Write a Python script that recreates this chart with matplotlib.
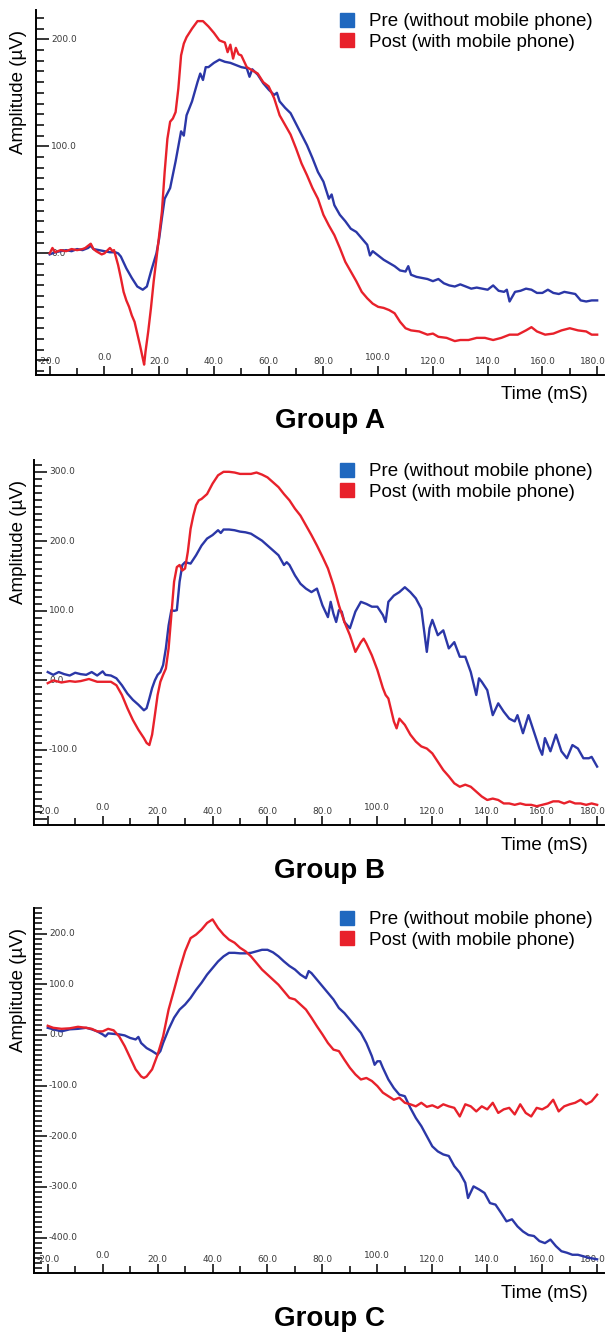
import matplotlib
matplotlib.use('Agg')
import matplotlib.pyplot as plt
from matplotlib.patches import Patch
from matplotlib.ticker import MultipleLocator
from matplotlib.transforms import offset_copy

plt.rcParams['font.family'] = ['Liberation Sans', 'DejaVu Sans']

series_names = ['Pre (without mobile phone)', 'Post (with mobile phone)']
group_names = ['Group A', 'Group B', 'Group C']
x_ticks = [-20, 0, 20, 40, 60, 80, 100, 120, 140, 160, 180]

# ---- Group A ----
t_a_pre = [-20, -18, -16, -14, -12, -10, -8, -6, -5, -4,
           -2, 0, 2, 4, 5, 6, 8, 10, 12, 14,
           15.5, 17, 19, 20, 21, 22, 23, 24, 26, 28,
           29, 30, 32, 34, 35, 36, 37, 38, 40, 42,
           44, 46, 48, 50, 52, 53, 54, 56, 58, 60,
           62, 63, 64, 66, 68, 70, 72, 74, 76, 78,
           80, 82, 83, 84, 86, 88, 90, 92, 94, 96,
           97, 98, 100, 102, 104, 106, 108, 110, 111, 112,
           114, 116, 118, 120, 122, 124, 126, 128, 130, 132,
           134, 136, 138, 140, 142, 144, 146, 147, 148, 150,
           152, 154, 156, 158, 160, 162, 164, 166, 168, 170,
           172, 174, 176, 178, 180]
v_a_pre = [-1, 1, 2, 3, 2, 4, 3, 5, 7, 4,
           3, 2, 1, 1, 0, -3, -14, -23, -31, -34,
           -31, -17, 0, 14, 33, 51, 56, 61, 86, 114,
           110, 129, 142, 160, 168, 162, 174, 174, 178, 181,
           179, 178, 176, 174, 173, 165, 172, 167, 159, 153,
           148, 150, 142, 136, 131, 121, 111, 101, 89, 76,
           67, 51, 55, 45, 36, 30, 23, 20, 14, 8,
           -2, 2, -2, -6, -9, -12, -16, -17, -12, -20,
           -22, -23, -24, -26, -24, -28, -30, -31, -29, -31,
           -33, -32, -33, -34, -30, -35, -36, -34, -45, -36,
           -35, -33, -34, -37, -37, -34, -37, -38, -36, -37,
           -38, -44, -45, -44, -44]
t_a_post = [-20, -19, -18, -16, -14, -12, -10, -8, -7, -5,
            -4, -3, -1, 0, 2, 3, 3.5, 5, 6, 7,
            8, 9, 10, 11, 12, 13, 14, 14.5, 15, 16,
            17, 18, 19, 20, 21, 22, 23, 24, 25, 26,
            27, 28, 29, 30, 32, 34, 36, 38, 40, 42,
            44, 45, 46, 47, 48, 49, 50, 52, 54, 56,
            58, 60, 62, 64, 66, 68, 70, 72, 74, 76,
            78, 80, 82, 84, 86, 88, 90, 92, 94, 96,
            98, 100, 102, 104, 106, 108, 110, 112, 115, 118,
            120, 122, 125, 128, 130, 133, 136, 139, 142, 145,
            148, 151, 154, 156, 158, 161, 164, 167, 170, 173,
            176, 178, 180]
v_a_post = [0, 5, 1, 3, 2, 4, 3, 4, 5, 9,
            4, 2, -1, 0, 5, 2, 3, -11, -23, -36,
            -44, -50, -58, -64, -75, -86, -98, -104, -92, -73,
            -51, -26, -5, 17, 39, 76, 107, 123, 126, 132,
            154, 185, 196, 202, 210, 217, 217, 212, 206, 199,
            197, 188, 195, 182, 192, 186, 185, 174, 171, 168,
            160, 156, 145, 129, 120, 111, 98, 84, 73, 61,
            51, 36, 26, 17, 5, -8, -17, -26, -36, -42,
            -47, -50, -51, -53, -56, -64, -70, -72, -73, -76,
            -75, -78, -79, -82, -81, -81, -79, -79, -81, -79,
            -76, -76, -72, -69, -73, -76, -75, -72, -70, -72,
            -73, -76, -76]

# ---- Group B ----
t_b_pre = [-20, -18, -16, -14, -12, -10, -8, -6, -4, -2,
           0, 1, 3, 5, 7, 9, 11, 13, 15, 16,
           17, 18, 19, 20, 21, 22, 23, 24, 25, 26,
           27, 28, 29, 30, 32, 34, 36, 38, 40, 42,
           43, 44, 46, 48, 50, 52, 54, 56, 58, 60,
           62, 64, 66, 67, 68, 70, 72, 74, 76, 78,
           79, 80, 82, 83, 84, 85, 86, 87, 88, 90,
           92, 94, 96, 98, 100, 102, 103, 104, 106, 108,
           110, 112, 114, 116, 118, 119, 120, 122, 124, 126,
           128, 130, 132, 134, 136, 137, 138, 140, 142, 144,
           146, 148, 150, 151, 153, 155, 157, 159, 160, 161,
           163, 165, 167, 169, 171, 173, 175, 177, 178, 180]
v_b_pre = [12, 8, 12, 9, 7, 11, 9, 8, 12, 7,
           13, 8, 7, 3, -7, -19, -28, -35, -43, -40,
           -26, -11, 0, 8, 12, 22, 46, 79, 101, 100,
           101, 142, 166, 170, 168, 180, 194, 204, 209, 216,
           212, 217, 217, 216, 214, 213, 211, 206, 201, 194,
           187, 180, 166, 170, 166, 151, 139, 132, 127, 132,
           120, 108, 91, 113, 96, 84, 101, 99, 84, 75,
           99, 113, 110, 106, 106, 94, 84, 113, 122, 127,
           134, 127, 118, 103, 41, 75, 87, 65, 72, 46,
           55, 34, 34, 12, -21, 3, -2, -14, -50, -33,
           -45, -55, -59, -50, -76, -50, -74, -98, -107, -83,
           -102, -78, -102, -112, -93, -98, -112, -112, -110, -124]
t_b_post = [-20, -18, -15, -12, -10, -8, -5, -2, 0, 3,
            5, 7, 9, 11, 13, 15, 16, 17, 18, 19,
            20, 21, 22, 23, 24, 25, 26, 27, 28, 29,
            30, 31, 32, 33, 34, 35, 36, 38, 40, 42,
            44, 46, 48, 50, 52, 54, 56, 58, 60, 62,
            64, 66, 68, 70, 72, 74, 76, 78, 80, 82,
            84, 86, 88, 90, 92, 94, 95, 96, 98, 100,
            102, 103, 104, 106, 107, 108, 110, 112, 114, 116,
            118, 120, 122, 124, 126, 128, 130, 132, 134, 136,
            138, 140, 142, 144, 146, 148, 150, 152, 154, 156,
            158, 160, 162, 164, 166, 168, 170, 172, 174, 176,
            178, 180]
v_b_post = [-4, 0, -3, -1, -2, -1, 2, -2, -2, -2,
            -7, -21, -40, -57, -71, -83, -90, -93, -78, -50,
            -21, -2, 8, 17, 46, 94, 142, 163, 166, 158,
            161, 185, 218, 237, 252, 259, 261, 268, 283, 295,
            300, 300, 299, 297, 297, 297, 299, 296, 292, 285,
            278, 268, 259, 247, 237, 223, 209, 194, 178, 161,
            137, 108, 84, 65, 41, 55, 60, 53, 36, 15,
            -11, -21, -26, -59, -69, -55, -64, -78, -88, -95,
            -98, -105, -117, -129, -138, -148, -153, -150, -153, -160,
            -167, -172, -170, -172, -177, -177, -179, -177, -179, -179,
            -181, -179, -177, -174, -174, -177, -174, -177, -177, -179,
            -177, -179]

# ---- Group C ----
t_c_pre = [-20, -18, -15, -12, -9, -6, -4, -2, 0, 1,
           2, 4, 6, 8, 10, 12, 13, 14, 16, 18,
           20, 21, 22, 24, 26, 28, 30, 32, 34, 36,
           38, 40, 42, 44, 46, 48, 50, 52, 54, 56,
           58, 60, 62, 64, 66, 68, 70, 72, 74, 75,
           76, 78, 80, 82, 84, 86, 88, 90, 92, 94,
           96, 98, 99, 100, 101, 102, 104, 106, 108, 110,
           112, 114, 116, 118, 120, 122, 124, 126, 128, 130,
           132, 133, 135, 137, 139, 141, 143, 145, 147, 149,
           151, 153, 155, 157, 159, 161, 163, 165, 167, 169,
           171, 173, 175, 177, 180]
v_c_pre = [14, 11, 7, 11, 12, 14, 11, 7, 1, -3,
           3, 2, 1, -1, -6, -9, -4, -16, -26, -32,
           -39, -32, -16, 11, 34, 50, 60, 73, 89, 103,
           119, 132, 145, 155, 162, 162, 161, 161, 162, 165,
           168, 168, 163, 155, 145, 136, 129, 119, 112, 126,
           122, 109, 96, 83, 70, 53, 43, 30, 17, 4,
           -16, -42, -59, -52, -52, -65, -88, -105, -118, -121,
           -144, -164, -180, -200, -220, -230, -236, -239, -259, -272,
           -292, -322, -299, -305, -312, -332, -335, -351, -368, -364,
           -378, -388, -395, -397, -407, -411, -404, -417, -427, -430,
           -434, -434, -437, -440, -443]
t_c_post = [-20, -18, -15, -12, -9, -6, -4, -2, 0, 2,
            4, 6, 8, 10, 12, 14, 15, 16, 18, 20,
            22, 24, 26, 28, 30, 32, 34, 36, 38, 40,
            42, 44, 46, 48, 50, 52, 54, 56, 58, 60,
            62, 64, 66, 68, 70, 72, 74, 76, 78, 80,
            82, 84, 86, 88, 90, 92, 94, 96, 98, 100,
            102, 104, 106, 108, 110, 112, 114, 116, 118, 120,
            122, 124, 126, 128, 130, 132, 134, 136, 138, 140,
            142, 144, 146, 148, 150, 152, 154, 156, 158, 160,
            162, 164, 166, 168, 170, 172, 174, 176, 178, 180]
v_c_post = [18, 14, 12, 13, 16, 14, 12, 7, 7, 12,
            9, -3, -22, -45, -68, -82, -85, -82, -68, -39,
            -3, 50, 89, 129, 165, 191, 198, 208, 221, 228,
            211, 198, 188, 182, 172, 165, 155, 142, 129, 119,
            109, 99, 86, 73, 70, 60, 50, 34, 17, 1,
            -16, -29, -32, -49, -65, -78, -88, -85, -91, -101,
            -114, -121, -128, -124, -134, -137, -141, -134, -142, -139,
            -144, -137, -141, -144, -161, -137, -141, -151, -141, -147,
            -134, -154, -147, -144, -157, -137, -154, -161, -144, -147,
            -141, -128, -151, -141, -137, -134, -128, -137, -131, -118]

y_ticks_a = [0, 100, 200]
y_ticks_b = [-100, 0, 100, 200, 300]
y_ticks_c = [-400, -300, -200, -100, 0, 100, 200]

BLUE = '#2b37a7'
RED = '#e8212b'
LEG_BLUE = '#1f68bf'
TICK_COL = '#3a3a3a'

W, H = 606, 1333
fig = plt.figure(figsize=(W / 100, H / 100), dpi=100)


def panel(left, top, bottom, ylim, yticks, t_pre, v_pre, t_post, v_post, name):
    right = 604
    ax = fig.add_axes([left / W, 1 - bottom / H, (right - left) / W, (bottom - top) / H])
    ax.plot(t_pre, v_pre, color=BLUE, lw=1.7, zorder=3)
    ax.plot(t_post, v_post, color=RED, lw=1.7, zorder=3)
    ax.set_xlim(-25, 182.5)
    ax.set_ylim(*ylim)

    ax.spines['top'].set_visible(False)
    ax.spines['right'].set_visible(False)
    ax.spines['left'].set_linewidth(1.4)
    ax.spines['bottom'].set_linewidth(1.4)

    ax.xaxis.set_major_locator(MultipleLocator(20))
    ax.xaxis.set_minor_locator(MultipleLocator(10))
    ax.yaxis.set_major_locator(MultipleLocator(100))
    ax.yaxis.set_minor_locator(MultipleLocator(10))
    ax.tick_params(axis='y', which='major', direction='in', length=9.5, width=1.1, labelleft=False)
    ax.tick_params(axis='y', which='minor', direction='in', length=5.8, width=1.1)
    ax.tick_params(axis='x', which='major', direction='in', length=6.5, width=1.1, labelbottom=False)
    ax.tick_params(axis='x', which='minor', direction='in', length=5.0, width=1.1)

    # tick labels sit inside the plot, like the recording software draws them
    ytr = offset_copy(ax.get_yaxis_transform(), fig=fig, x=15, y=0, units='dots')
    for v in yticks:
        ax.text(0, v, f'{v:.1f}', transform=ytr, fontsize=6.5, color=TICK_COL,
                ha='left', va='center', family='DejaVu Sans', zorder=1)
    for v in x_ticks:
        lift = 18 if v in (0, 100) else 13
        shift = -4 if v == 180 else 0
        xtr = offset_copy(ax.get_xaxis_transform(), fig=fig, x=shift, y=lift, units='dots')
        ax.text(v, 0, f'{v:.1f}', transform=xtr, fontsize=6.5, color=TICK_COL,
                ha='center', va='center', family='DejaVu Sans', zorder=1)

    w_px = right - left
    h_px = bottom - top
    ax.legend(handles=[Patch(color=LEG_BLUE), Patch(color=RED)], labels=series_names,
              loc='upper right', bbox_to_anchor=(1 - 11 / w_px, 1 - 3 / h_px),
              frameon=False, fontsize=13.5, handlelength=0.75, handleheight=0.75,
              handletextpad=0.8, labelspacing=0.15, borderpad=0, borderaxespad=0)

    fig.text(19 / W, 1 - (top + 82) / H, 'Amplitude (µV)', rotation=90,
             ha='center', va='center', fontsize=13.5)
    fig.text(588 / W, 1 - (bottom + 20) / H, 'Time (mS)', ha='right', va='center', fontsize=13.5)
    fig.text(330 / W, 1 - (bottom + 46) / H, name, ha='center', va='center',
             fontsize=20, fontweight='bold', family=['Liberation Sans', 'DejaVu Sans'])
    return ax


panel(36, 10, 375, (-113.7, 227.4), y_ticks_a, t_a_pre, v_a_pre, t_a_post, v_a_post, group_names[0])
panel(34, 460, 825, (-208, 317), y_ticks_b, t_b_pre, v_b_pre, t_b_post, v_b_post, group_names[1])
panel(34, 908, 1273, (-470, 250.5), y_ticks_c, t_c_pre, v_c_pre, t_c_post, v_c_post, group_names[2])

fig.savefig('out.png', dpi=100)
